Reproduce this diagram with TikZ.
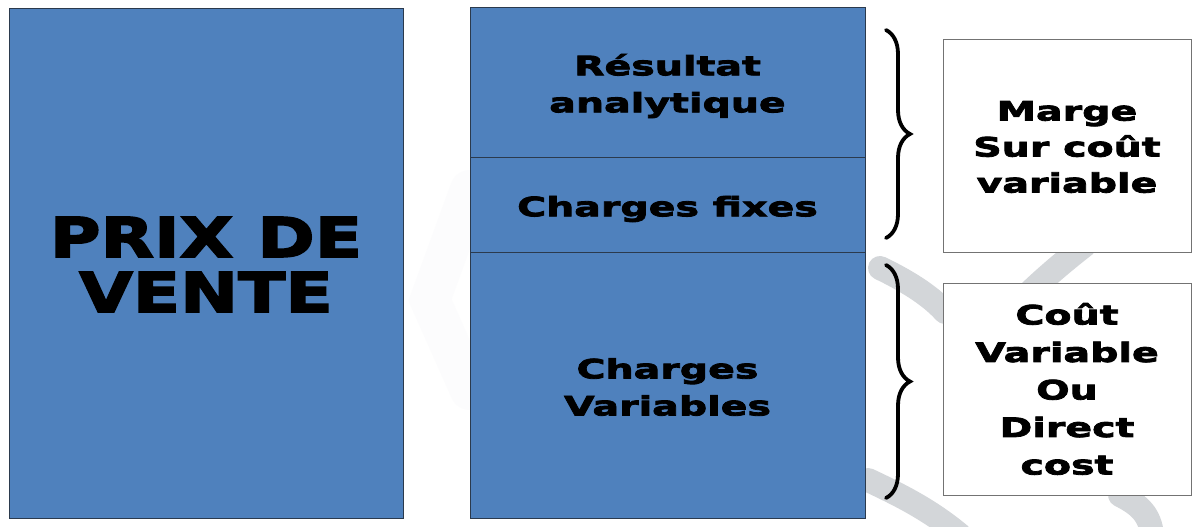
\documentclass[tikz,border=0pt]{standalone}
\usepackage{fontspec}
\setmainfont{DejaVu Sans}
\newfontfamily\smallvb{DejaVu Sans Bold}[FakeStretch=1.48, FakeBold=3]
\newfontfamily\bigvb{DejaVu Sans Bold}[FakeStretch=1.26, FakeBold=3]
\usetikzlibrary{decorations.pathreplacing}
\definecolor{boxblue}{HTML}{4F81BD}
\definecolor{boxedge}{HTML}{2B3A4D}
\definecolor{wmark}{HTML}{D3D6D9}
\definecolor{wfaint}{HTML}{FCFCFD}
\begin{document}
\begin{tikzpicture}[x=1pt,y=-1pt,
  bluebox/.style={draw=boxedge, line width=1pt, fill=boxblue, inner sep=0pt},
  whitebox/.style={draw=black!55, line width=1pt, fill=white, inner sep=0pt},
  txt/.style={inner sep=0pt, align=center, font=\smallvb\fontsize{26.7}{37}\selectfont},
  bigtxt/.style={inner sep=0pt, align=center, font=\bigvb\fontsize{55}{55}\selectfont},
  bracestyle/.style={decorate, decoration={brace, amplitude=24pt}, line width=3.8pt, line cap=round}]
\useasboundingbox (0,0) rectangle (1192,527);
\fill[white] (0,0) rectangle (1192,527);
% watermark
\begin{scope}[wfaint, line width=40pt, line cap=round]
\draw (470,190) -- (430,300) -- (470,390);
\end{scope}
\begin{scope}[wmark, line width=24pt, line cap=round]
\draw (1085,245) .. controls (1040,280) and (1010,310) .. (985,340);
\draw (880,268) .. controls (905,280) and (930,295) .. (945,312);
\draw (868,480) .. controls (900,495) and (930,510) .. (960,535);
\draw (1120,495) .. controls (1140,505) and (1150,515) .. (1152,535);
\end{scope}
% left box
\node[bluebox, minimum width=394pt, minimum height=510pt] (prix) at (206,263.5) {};
\node[bigtxt] (prixt) at ([yshift=-1pt]prix.center) {PRIX DE\\VENTE};
% middle stack
\node[bluebox, minimum width=395pt, minimum height=149pt] (res) at (667.5,82.5) {};
\node[bluebox, minimum width=395pt, minimum height=95pt] (fix) at (667.5,204.5) {};
\node[bluebox, minimum width=395pt, minimum height=266pt] (var) at (667.5,385) {};
\node[txt] (rest) at ([yshift=-3.5pt]res.center) {Résultat\\analytique};
\node[txt] (fixt) at ([yshift=-4.5pt]fix.center) {Charges fixes};
\node[txt] (vart) at ([yshift=-2pt]var.center) {Charges\\Variables};
% right boxes
\node[whitebox, minimum width=248pt, minimum height=212pt] (marge) at (1067,146) {};
\node[whitebox, minimum width=248pt, minimum height=212pt] (cout) at (1067,389) {};
\node[txt, font=\smallvb\fontsize{26.7}{36}\selectfont] (marget) at ([yshift=-1pt]marge.center) {Marge\\Sur coût\\variable};
\node[txt, font=\smallvb\fontsize{26.7}{37.5}\selectfont] (coutt) at (cout.center) {Coût\\Variable\\Ou\\Direct\\cost};
% braces
\coordinate (b1t) at (886,30);
\coordinate (b1b) at (886,238);
\coordinate (b2t) at (886,265);
\coordinate (b2b) at (886,498);
\draw[bracestyle] (b1t) -- (b1b);
\draw[bracestyle] (b2t) -- (b2b);
\end{tikzpicture}
\end{document}
